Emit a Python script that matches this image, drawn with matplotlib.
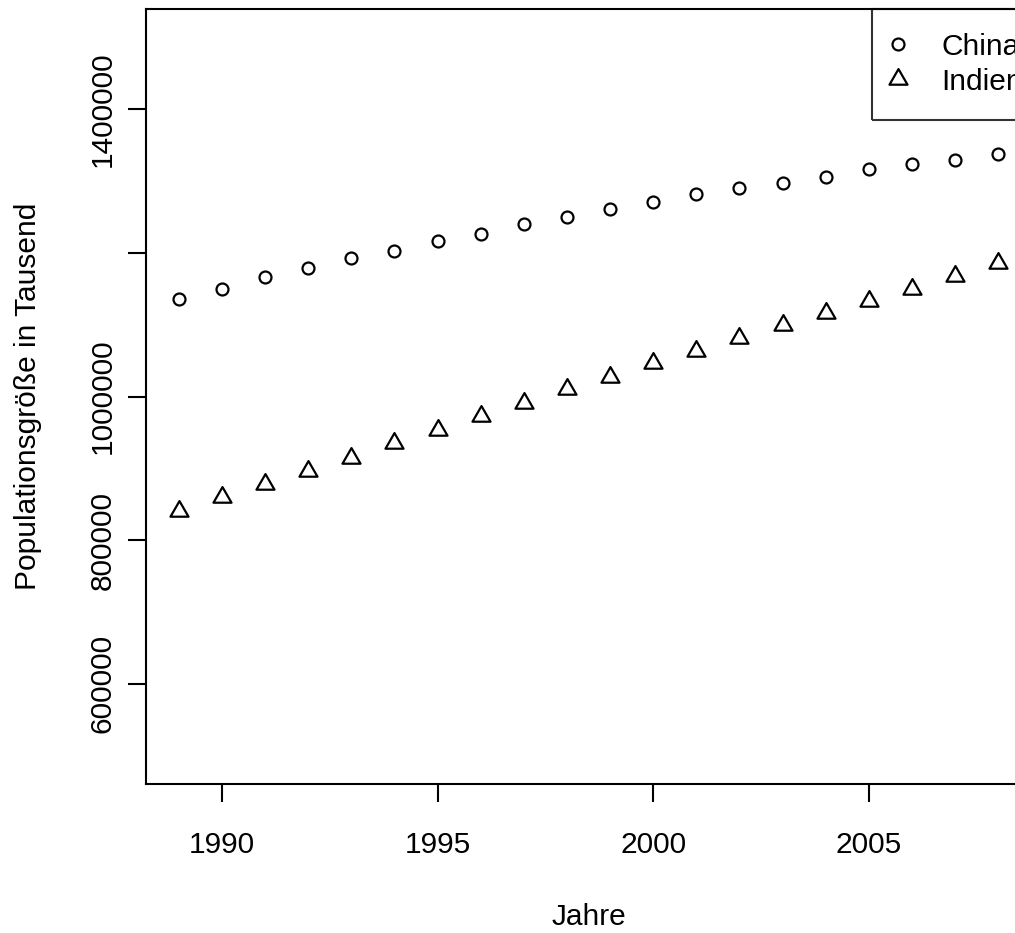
#scatter of population size (in thousands) for China and India, 1989-2008
import numpy as np
import matplotlib
matplotlib.use("Agg")
import matplotlib.pyplot as plt
from matplotlib.path import Path

years = [1989, 1990, 1991, 1992, 1993, 1994, 1995, 1996, 1997, 1998,
         1999, 2000, 2001, 2002, 2003, 2004, 2005, 2006, 2007, 2008]
china = [1135200, 1150500, 1166300, 1179200, 1192700, 1203400, 1216800, 1227100, 1240000, 1250700,
         1260900, 1271600, 1282200, 1290100, 1298000, 1305800, 1316500, 1324400, 1329500, 1337400]
india = [840800, 859300, 877600, 896800, 914300, 934800, 952800, 973200, 991500, 1010200,
         1027100, 1046000, 1063500, 1081300, 1099800, 1116500, 1133300, 1150400, 1167800, 1185700]
labels = ["China", "Indien"]
xticks = [1990, 1995, 2000, 2005]
yticks = [600000, 800000, 1000000, 1200000, 1400000]
ytick_labels = ["600000", "800000", "1000000", "", "1400000"]  # R drops the overlapping one

plt.rcParams['font.family'] = ['Liberation Sans', 'DejaVu Sans']
fs = 21.5

# R style open triangle (pch=2), centred on its centroid
tri = Path([(0, 1), (-0.866, -0.5), (0.866, -0.5), (0, 1)], closed=True)

fig = plt.figure(figsize=(10.15, 9.33), dpi=100)
W, H = 1015, 933
ax = fig.add_axes([146/W, (H-784)/H, (1031-146)/W, (784-9)/H])
ax.set_facecolor('none')

ax.plot(years, china, linestyle='none', marker='o', ms=8.6, mfc='none', mec='black', mew=1.6, label=labels[0])
ax.plot(years, india, linestyle='none', marker=tri, ms=15, mfc='none', mec='black', mew=1.6, label=labels[1])

# R's default 4% padding around c(1989, 2008) and ylim=c(500000, 1500000)
ax.set_xlim(1988.24, 2008.76)
ax.set_ylim(460000, 1540000)

ax.set_xticks(xticks)
ax.set_xticklabels([str(x) for x in xticks])
ax.set_yticks(yticks)
ax.set_yticklabels(ytick_labels, rotation=90, va='center')
ax.tick_params(axis='both', labelsize=fs, length=13, width=1.5, direction='out')
ax.tick_params(axis='x', pad=21)
ax.tick_params(axis='y', pad=8)
for s in ax.spines.values():
    s.set_linewidth(1.5)

ax.set_xlabel("Jahre", fontsize=fs)
ax.set_ylabel("Populationsgröße in Tausend", fontsize=fs)
ax.xaxis.set_label_coords(0.5, -0.154)
ax.yaxis.set_label_coords(-0.1175, 0.5)

leg = ax.legend(loc='upper left', bbox_to_anchor=((872-146)/885, 1.0), borderaxespad=0,
                fontsize=fs, fancybox=False, edgecolor='black', facecolor='none', framealpha=None,
                handlelength=0.15, handletextpad=1.38, borderpad=0.8, labelspacing=0.23)
leg.get_frame().set_linewidth(1.5)

fig.savefig("out.png", dpi=100)
